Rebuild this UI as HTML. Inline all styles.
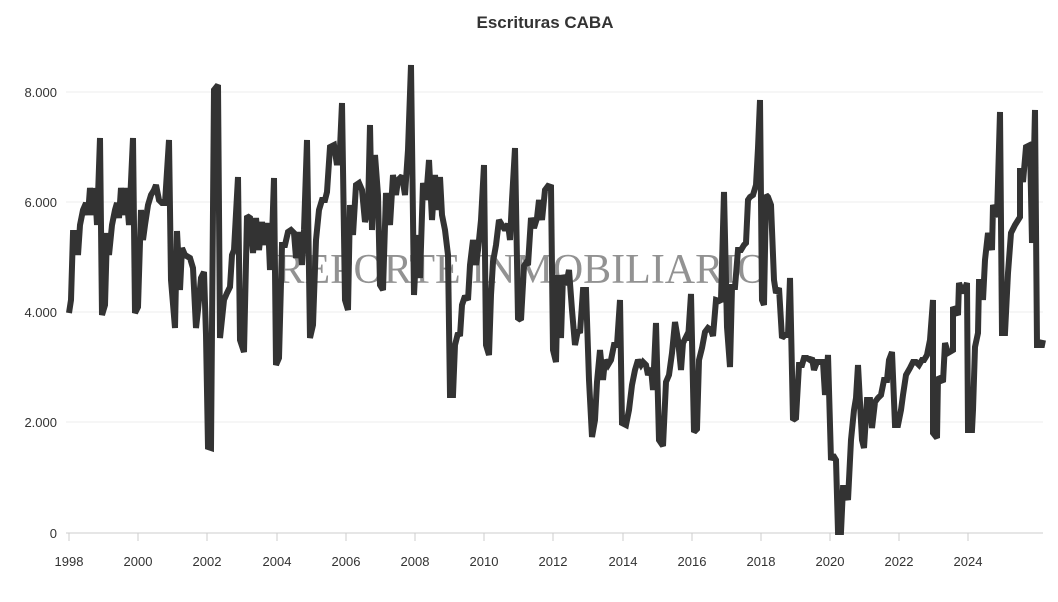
<!DOCTYPE html>
<html><head><meta charset="utf-8"><style>
html,body{margin:0;padding:0;background:#fff;}
svg{display:block;font-family:"Liberation Sans",sans-serif;}
</style></head><body>
<svg width="1058" height="602" viewBox="0 0 1058 602">
<text x="545" y="28" text-anchor="middle" font-size="17" font-weight="bold" fill="#333">Escrituras CABA</text>
<g stroke="#ececec" stroke-width="1">
<line x1="66" y1="92" x2="1043" y2="92"/><line x1="66" y1="202" x2="1043" y2="202"/><line x1="66" y1="312" x2="1043" y2="312"/><line x1="66" y1="422" x2="1043" y2="422"/>
</g>
<line x1="66" y1="533" x2="1043" y2="533" stroke="#ccc" stroke-width="1"/>
<g stroke="#ccc"><line x1="69" y1="533" x2="69" y2="541"/><line x1="138" y1="533" x2="138" y2="541"/><line x1="207" y1="533" x2="207" y2="541"/><line x1="277" y1="533" x2="277" y2="541"/><line x1="346" y1="533" x2="346" y2="541"/><line x1="415" y1="533" x2="415" y2="541"/><line x1="484" y1="533" x2="484" y2="541"/><line x1="553" y1="533" x2="553" y2="541"/><line x1="623" y1="533" x2="623" y2="541"/><line x1="692" y1="533" x2="692" y2="541"/><line x1="761" y1="533" x2="761" y2="541"/><line x1="830" y1="533" x2="830" y2="541"/><line x1="899" y1="533" x2="899" y2="541"/><line x1="968" y1="533" x2="968" y2="541"/></g>
<g font-size="13" fill="#333" text-anchor="end">
<text x="57" y="97">8.000</text><text x="57" y="207">6.000</text><text x="57" y="317">4.000</text><text x="57" y="427">2.000</text><text x="57" y="538">0</text>
</g>
<g font-size="13" fill="#333" text-anchor="middle">
<text x="69" y="566">1998</text><text x="138" y="566">2000</text><text x="207" y="566">2002</text><text x="277" y="566">2004</text><text x="346" y="566">2006</text><text x="415" y="566">2008</text><text x="484" y="566">2010</text><text x="553" y="566">2012</text><text x="623" y="566">2014</text><text x="692" y="566">2016</text><text x="761" y="566">2018</text><text x="830" y="566">2020</text><text x="899" y="566">2022</text><text x="968" y="566">2024</text>
</g>
<text x="522" y="283" text-anchor="middle" font-family="Liberation Serif,serif" font-size="42" fill="#777" fill-opacity="0.8">REPORTE INMOBILIARIO</text>
<polyline fill="none" stroke="#333" stroke-width="6" stroke-linejoin="miter" stroke-miterlimit="2" points="69,313 71,300 73,233 76,233 78,255 80,225 83,210 86,203 88,215 90,188 93,215 95,188 97,225 100,138 102,315 105,305 107,233 109,255 112,225 115,210 117,203 119,218 121,188 124,215 126,188 129,225 133,138 135,313 138,307 141,210 143,240 145,225 148,205 151,195 154,190 156,185 159,200 162,203 165,203 169,140 171,280 175,328 177,231 180,290 182,248 185,255 190,258 193,268 196,328 198,310 201,278 204,272 206,335 208,447 211,448 214,90 218,85 220,338 224,300 227,293 230,287 232,255 234,250 238,177 240,340 244,352 247,216 250,218 253,253 256,218 259,250 262,222 265,245 268,223 270,270 272,238 274,178 276,365 279,358 282,245 285,245 288,232 291,230 294,233 296,258 299,232 302,265 304,230 307,140 310,338 313,325 316,240 319,210 322,200 325,200 327,192 330,147 334,145 337,165 340,148 342,103 345,300 348,310 350,205 353,235 356,185 359,183 362,190 365,222 368,211 370,125 372,230 375,155 378,195 380,285 383,290 386,193 390,225 393,175 396,195 398,180 402,176 405,195 408,150 411,65 414,295 417,235 420,278 423,183 426,200 429,160 432,220 435,175 438,210 440,177 442,215 445,230 448,255 450,395 453,395 455,345 458,333 460,336 462,305 465,296 468,300 470,265 473,240 476,265 478,250 481,220 484,165 486,345 489,355 491,295 493,262 496,245 499,220 502,225 505,230 508,224 510,240 512,200 515,148 518,318 521,320 524,266 526,263 528,265 531,218 534,228 537,218 539,200 542,220 545,190 548,186 551,187 553,350 556,362 558,275 561,338 563,275 566,285 569,270 572,310 575,345 578,330 580,333 583,290 586,290 589,380 592,437 595,420 597,382 600,350 603,380 605,360 608,365 611,360 614,345 617,345 620,300 622,423 626,425 629,410 632,385 635,370 638,360 641,365 643,362 646,365 648,375 651,368 653,390 656,323 659,440 663,446 666,382 669,375 672,353 675,322 678,340 681,370 683,343 686,337 688,340 691,294 694,432 697,429 699,360 702,348 705,332 708,328 711,330 713,336 716,300 719,301 721,300 724,192 727,327 730,367 732,287 735,287 738,250 741,250 744,245 746,243 748,200 750,197 753,195 756,185 758,148 760,100 762,300 764,305 766,195 768,197 771,205 774,280 776,293 779,288 782,338 785,335 788,335 790,278 793,420 796,418 799,365 802,365 804,358 807,358 810,360 812,358 814,370 817,362 820,362 823,362 825,395 828,355 831,460 833,455 836,460 838,532 841,532 843,488 845,488 848,500 851,440 854,410 856,398 858,365 862,440 864,448 867,400 870,400 872,428 875,402 878,398 881,395 884,380 887,380 889,360 892,352 895,425 898,425 901,410 903,395 906,375 910,368 913,362 916,362 919,365 922,360 924,360 927,355 930,340 933,300 933,433 937,438 938,377 943,382 945,343 948,353 953,350 953,307 958,315 959,283 963,293 967,283 968,430 972,430 973,410 975,347 978,333 979,282 982,282 983,300 985,260 988,233 992,250 993,205 997,217 1000,112 1002,333 1005,333 1008,273 1011,233 1015,225 1020,217 1020,168 1023,182 1026,147 1030,145 1032,243 1035,110 1037,345 1042,345 1043,340"/>
</svg>
</body></html>
